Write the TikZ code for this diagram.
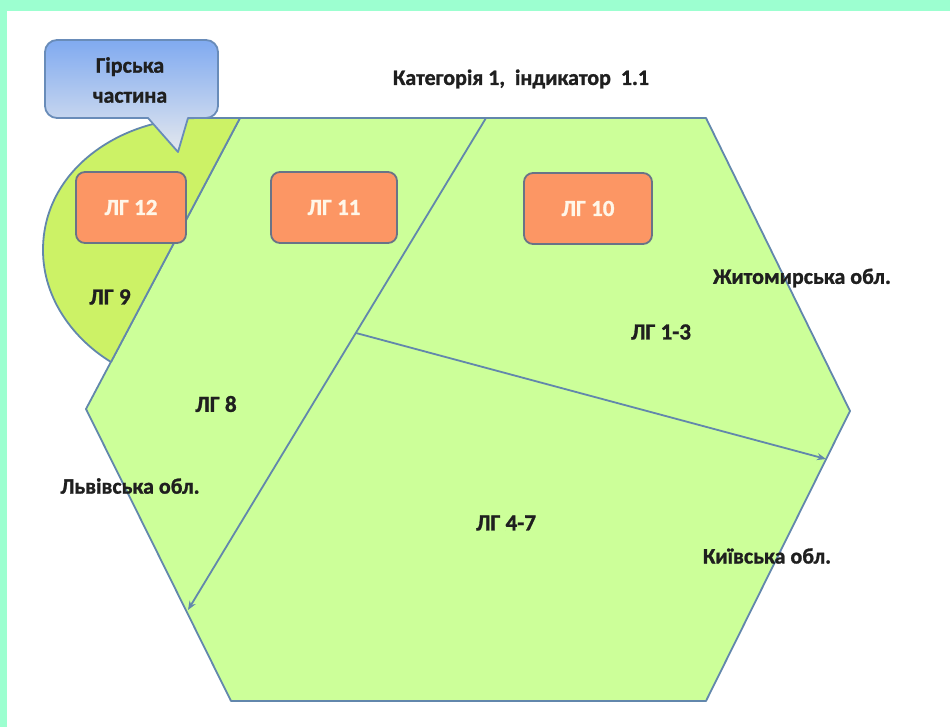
\documentclass[tikz,border=0pt]{standalone}
\usepackage{fontspec}
\setmainfont{Carlito}[BoldFeatures={FakeBold=1.2}]
\usetikzlibrary{arrows.meta}
\definecolor{mint}{RGB}{156,255,208}
\definecolor{hexgreen}{RGB}{204,255,153}
\definecolor{yellowgreen}{RGB}{204,242,102}
\definecolor{edgeblue}{RGB}{98,135,172}
\definecolor{boxorange}{RGB}{252,150,100}
\definecolor{boxedge}{RGB}{105,115,135}
\definecolor{calltop}{RGB}{128,170,240}
\definecolor{callbot}{RGB}{228,232,238}
\definecolor{calledge}{RGB}{105,140,185}
\definecolor{boxtext}{RGB}{255,246,232}
\tikzset{
  lbl/.style={font=\fontsize{22}{26}\selectfont\bfseries, text=black!88, inner sep=0pt},
  lglbl/.style={lbl, font=\fontsize{23}{27}\selectfont\bfseries},
  lgbox/.style={draw=boxedge, line width=1.8pt, fill=boxorange, rounded corners=9pt,
    minimum height=71pt, text=boxtext, font=\fontsize{23}{27}\selectfont\bfseries, inner sep=0pt},
  region/.style={draw=edgeblue, line width=1.8pt, line join=round},
  divider/.style={draw=edgeblue, line width=1.8pt, -{Stealth[length=9pt,width=7pt]}},
}
\begin{document}
\begin{tikzpicture}[x=1pt,y=-1pt]
\useasboundingbox (0,0) rectangle (950,727);
\fill[mint] (0,0) rectangle (950,727);
\fill[white] (7,11) rectangle (950,727);

% hexagon vertices
\coordinate (tl) at (240,118);
\coordinate (tr) at (706,118);
\coordinate (r)  at (850,411);
\coordinate (br) at (706,701);
\coordinate (bl) at (231,701);
\coordinate (l)  at (86,409);
\coordinate (sep) at (111,362);

\path[region, fill=hexgreen] (tl) -- (tr) -- (r) -- (br) -- (bl) -- (l) -- cycle;

% mountain segment
\fill[yellowgreen] (tl) -- (sep) .. controls (75,340) and (43,300) .. (43,250)
   .. controls (43,170) and (120,118) .. (200,118) -- cycle;
\draw[region] (sep) .. controls (75,340) and (43,300) .. (43,250)
   .. controls (43,170) and (120,118) .. (200,118) -- (tl);
\draw[region] (tl) -- (sep);

% dividing arrows
\coordinate (a1s) at (486,118);
\coordinate (a1e) at (188,610);
\coordinate (a2s) at (356,333);
\coordinate (a2e) at (826,459);
\draw[divider] (a1s) -- (a1e);
\draw[divider] (a2s) -- (a2e);

% boxes
\node[lgbox, minimum width=110pt] (lg12) at (131,207.5) {ЛГ 12};
\node[lgbox, minimum width=126pt] (lg11) at (334,207.5) {ЛГ 11};
\node[lgbox, minimum width=128pt] (lg10) at (588,208.5) {ЛГ 10};

% callout
\path[draw=calledge, line width=1.8pt, top color=calltop, bottom color=callbot, line join=round]
  (148,118) -- (178,152) -- (188,118) [rounded corners=12pt] -- (218,118) -- (218,40)
  -- (45,40) -- (45,118) [sharp corners] -- cycle;
\node[lbl, align=center, font=\fontsize{22}{30}\selectfont\bfseries] (callout) at (130,80) {Гірська\\частина};

% labels
\node[lbl] (title) at (521,79) {Категорія 1,\ \ індикатор\ \ 1.1};
\node[lglbl] (lg9) at (110,297) {ЛГ 9};
\node[lglbl] (lg8) at (216,404) {ЛГ 8};
\node[lglbl] (lg13) at (661,332) {ЛГ 1-3};
\node[lglbl] (lg47) at (506,523) {ЛГ 4-7};
\node[lbl] (zhyt) at (802,278) {Житомирська обл.};
\node[lbl] (lviv) at (130,486) {Львівська обл.};
\node[lbl] (kyiv) at (767,556) {Київська обл.};
\end{tikzpicture}
\end{document}
